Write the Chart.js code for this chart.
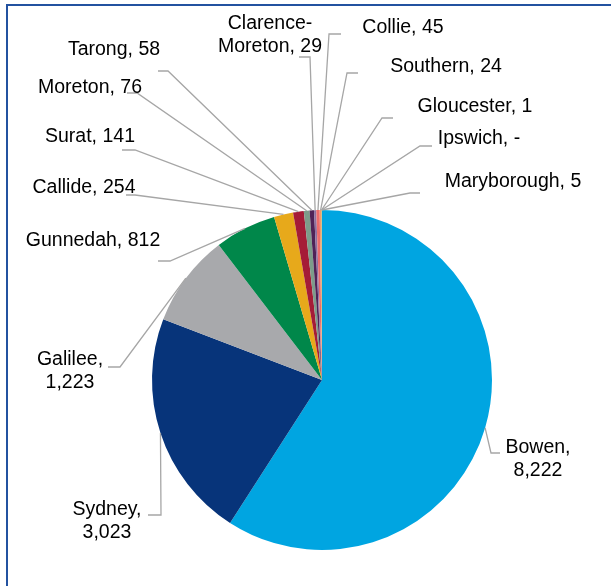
<!DOCTYPE html>
<html lang="en">
    <head>
        <title>Basin pie</title>
        <meta charset="utf-8">
        <script src="https://cdn.jsdelivr.net/npm/chart.js@4.4.1/dist/chart.umd.min.js"></script>
        <style>
            html, body { margin: 0; padding: 0; background: #fff; }
            #wrap { position: relative; width: 611px; height: 586px; overflow: hidden; }
            #frame { position: absolute; left: 6px; top: 4px; width: 700px; height: 700px;
                     border-left: 2px solid #2352a0; border-top: 2px solid #2352a0; }
            canvas { position: absolute; left: 0; top: 0; }
        </style>
    </head>

    <body>
        <div id="wrap">
            <div id="frame"></div>
            <canvas id="pieChart" width="611" height="586"></canvas>
        </div>

        <script>
            // data, clockwise from 12 o'clock
            const basins = ['Bowen', 'Sydney', 'Galilee', 'Gunnedah', 'Callide', 'Surat', 'Moreton', 'Tarong',
                            'Clarence-Moreton', 'Collie', 'Southern', 'Gloucester', 'Ipswich', 'Maryborough'];
            const values = [8222, 3023, 1223, 812, 254, 141, 76, 58, 29, 45, 24, 1, 0, 5];
            const colors = ['#00a5e1', '#07347a', '#a8a9ac', '#00874a', '#e7a91b', '#a51c37', '#7d9c8a', '#4f2257',
                            '#8c6fa0', '#ec6b6b', '#f39c6b', '#c8a2c8', '#6cb4e4', '#9bbb59'];

            // where each data label sits: text centre (first line), leader elbow, leader end, how to wrap
            const labelLayout = [
                { tx: 538, ty: 448, ex: 491, ey: 453, endX: 500, wrap: 'value' },
                { tx: 107, ty: 510, ex: 161, ey: 515, endX: 148, wrap: 'value' },
                { tx: 70,  ty: 360, ex: 120, ey: 367, endX: 108, wrap: 'value' },
                { tx: 93,  ty: 241, ex: 170, ey: 261, endX: 158 },
                { tx: 84,  ty: 188, ex: 135, ey: 195, endX: 126 },
                { tx: 90,  ty: 137, ex: 135, ey: 150, endX: 122 },
                { tx: 90,  ty: 88,  ex: 137, ey: 93,  endX: 127 },
                { tx: 114, ty: 50,  ex: 168, ey: 71,  endX: 158 },
                { tx: 270, ty: 24,  ex: 310, ey: 57,  endX: 299, wrap: 'hyphen' },
                { tx: 403, ty: 28,  ex: 329, ey: 34,  endX: 341 },
                { tx: 446, ty: 67,  ex: 347, ey: 73,  endX: 358 },
                { tx: 475, ty: 107, ex: 382, ey: 118, endX: 393 },
                { tx: 479, ty: 139, ex: 420, ey: 146, endX: 432 },
                { tx: 513, ty: 182, ex: 410, ey: 193, endX: 420 }
            ];

            function labelLines(name, value, wrap) {
                const v = value === 0 ? '-' : value.toLocaleString('en-US');
                if (wrap === 'value') return [name + ',', v];
                if (wrap === 'hyphen') {
                    const cut = name.indexOf('-') + 1;
                    return [name.slice(0, cut), name.slice(cut) + ', ' + v];
                }
                return [name + ', ' + v];
            }

            const outsideLabels = {
                id: 'outsideLabels',
                afterDatasetsDraw(chart) {
                    const ctx = chart.ctx;
                    const arcs = chart.getDatasetMeta(0).data;
                    ctx.save();
                    arcs.forEach((arc, i) => {
                        const p = arc.getProps(['x', 'y', 'startAngle', 'endAngle', 'outerRadius'], true);
                        const mid = (p.startAngle + p.endAngle) / 2;
                        const sx = p.x + p.outerRadius * Math.cos(mid);
                        const sy = p.y + p.outerRadius * Math.sin(mid);
                        const lay = labelLayout[i];

                        // leader line
                        ctx.strokeStyle = '#a6a6a6';
                        ctx.lineWidth = 1.3;
                        ctx.beginPath();
                        ctx.moveTo(sx, sy);
                        ctx.lineTo(lay.ex, lay.ey);
                        ctx.lineTo(lay.endX, lay.ey);
                        ctx.stroke();

                        // text
                        ctx.fillStyle = '#000';
                        ctx.font = '19.5px "Liberation Sans", Arial, sans-serif';
                        ctx.textAlign = 'center';
                        ctx.textBaseline = 'middle';
                        labelLines(basins[i], values[i], lay.wrap).forEach((line, k) => {
                            ctx.fillText(line, lay.tx, lay.ty + k * 22.5);
                        });
                    });
                    ctx.restore();
                }
            };

            new Chart(document.getElementById('pieChart'), {
                type: 'pie',
                data: {
                    labels: basins,
                    datasets: [{
                        data: values,
                        backgroundColor: colors,
                        borderWidth: 0,
                        hoverOffset: 0,
                        radius: 170
                    }]
                },
                options: {
                    responsive: false,
                    animation: false,
                    layout: { padding: { left: 33, right: 0, top: 174, bottom: 0 } },
                    plugins: {
                        legend: { display: false },
                        tooltip: { enabled: false }
                    }
                },
                plugins: [outsideLabels]
            });
        </script>
    </body>
</html>
